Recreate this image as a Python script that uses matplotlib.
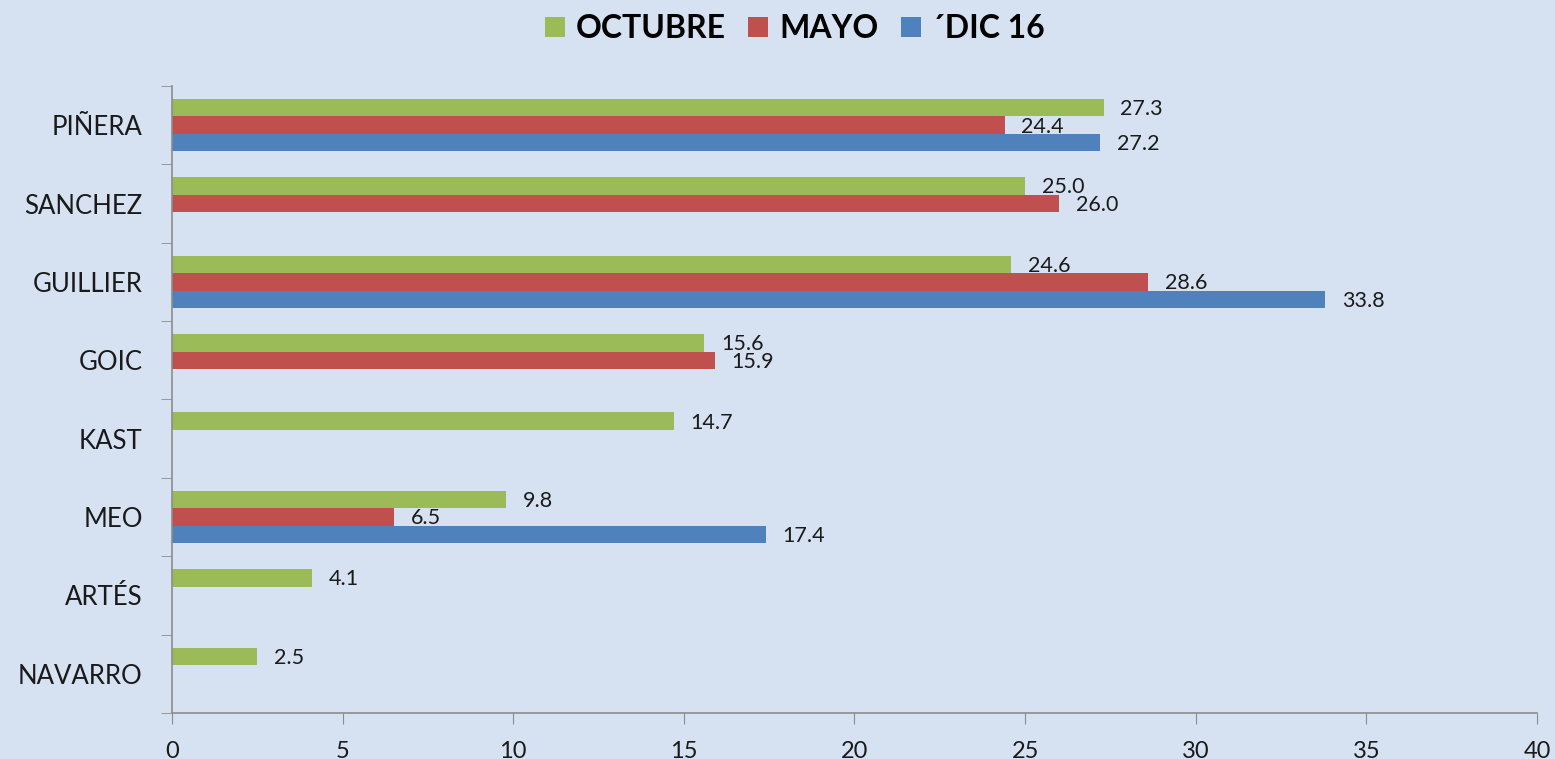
import numpy as np
import matplotlib.pyplot as plt
from matplotlib.patches import Patch

candidatos = ["PIÑERA", "SANCHEZ", "GUILLIER", "GOIC", "KAST", "MEO", "ARTÉS", "NAVARRO"]
octubre = [27.3, 25.0, 24.6, 15.6, 14.7, 9.8, 4.1, 2.5]
mayo = [24.4, 26.0, 28.6, 15.9, None, 6.5, None, None]
dic16 = [27.2, None, 33.8, None, None, 17.4, None, None]

series = [("OCTUBRE", octubre, "#9BBB59"),
          ("MAYO", mayo, "#C0504D"),
          ("\u00b4DIC 16", dic16, "#4F81BD")]

plt.rcParams['font.family'] = ['Lato', 'DejaVu Sans']

fig = plt.figure(figsize=(15.55, 7.59), dpi=100)
fig.patch.set_facecolor("#D6E2F2")
ax = fig.add_axes([0.1106, 0.0606, 0.8778, 0.8261])
ax.set_facecolor("#D6E2F2")

n = len(candidatos)
y = np.arange(n)
h = 0.223
for i, (name, vals, col) in enumerate(series):
    for j, v in enumerate(vals):
        if v is None:
            continue
        yy = j + (i - 1) * h
        ax.annotate(f"{v:.1f}", (v, yy), xytext=(12, -1), textcoords="offset points",
                    va="center", ha="left", fontsize=15.5, color="#1a1a1a")
        ax.barh(yy, v, height=h, color=col, edgecolor="none")

ax.set_xlim(0, 40)
ax.set_ylim(n - 0.5, -0.5)
ax.set_xticks(range(0, 41, 5))
ax.tick_params(axis="x", labelsize=17, length=8, color="#8c8c8c", pad=12, labelcolor="#1a1a1a")
ax.set_yticks(y)
ax.set_yticklabels(candidatos)
ax.tick_params(axis="y", which="major", length=0, pad=21, labelsize=18.5, labelcolor="#1a1a1a")
ax.set_yticks(np.arange(-0.5, n, 1), minor=True)
ax.tick_params(axis="y", which="minor", length=8, color="#8c8c8c")

for s in ["top", "right"]:
    ax.spines[s].set_visible(False)
for s in ["left", "bottom"]:
    ax.spines[s].set_color("#8c8c8c")
    ax.spines[s].set_linewidth(1.2)

handles = [Patch(facecolor=c, edgecolor="none", label=nm) for nm, _, c in series]
fig.legend(handles=handles, loc="center", bbox_to_anchor=(0.511, 0.962), ncol=3,
           frameon=False, prop={"weight": "bold", "size": 23}, handlelength=0.62,
           handleheight=0.62, handletextpad=0.35, columnspacing=0.7)

fig.savefig("out.png", dpi=100, facecolor=fig.get_facecolor())
